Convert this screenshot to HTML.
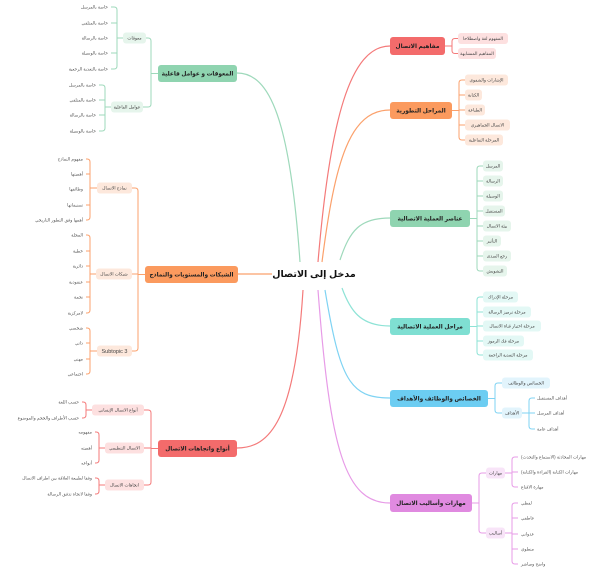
<!DOCTYPE html>
<html><head><meta charset="utf-8"><style>
html,body{margin:0;padding:0;background:#fff;}
svg{display:block;font-family:"Liberation Sans","DejaVu Sans",sans-serif;}
.m{font-size:5.8px;font-weight:bold;fill:#222;}
.c{font-size:4.4px;fill:#444;}
.l{font-size:4.4px;fill:#555;}
</style></head><body>
<svg width="604" height="576" viewBox="0 0 604 576" xmlns="http://www.w3.org/2000/svg">
<g fill="none" stroke-width="1.2">
<path d="M318 262 C330 120 350 46 390 46" stroke="#f47a7a"/>
<path d="M322 262 C335 160 350 110 390 110" stroke="#fba16c"/>
<path d="M340 260 C350 230 360 218 390 218" stroke="#9ed9bb"/>
<path d="M342 288 C350 310 360 326 390 326" stroke="#8ee3d6"/>
<path d="M325 290 C340 380 350 398 390 398" stroke="#7fd3f3"/>
<path d="M318 290 C330 450 345 503 390 503" stroke="#e79be7"/>
<path d="M300 262 C290 120 270 73 237 73" stroke="#9ed9bb"/>
<path d="M272 274 H238" stroke="#fba16c"/>
<path d="M303 290 C295 420 270 448 237 448" stroke="#f47a7a"/>
</g>
<g fill="none" stroke-width="1">
<g stroke="#f47a7a"><path d="M445 46 H452 M458 38.5 H455 Q452 38.5 452 41.5 V50.5 Q452 53.5 455 53.5 H458"/></g>
<g stroke="#fba16c"><path d="M452 110.5 H459 M465 80 H462 Q459 80 459 83 V137 Q459 140 462 140 H465 M459 95 H465 M459 110 H465 M459 125 H465"/></g>
<g stroke="#9ed9bb"><path d="M470 218.5 H477 M483 166 H480 Q477 166 477 169 V268 Q477 271 480 271 H483 M477 181 H483 M477 196 H483 M477 211 H483 M477 226 H483 M477 241 H483 M477 256 H483"/></g>
<g stroke="#8ee3d6"><path d="M470 326.5 H477 M483 297 H480 Q477 297 477 300 V352 Q477 355 480 355 H483 M477 312 H483 M477 326 H483 M477 341 H483"/></g>
<g stroke="#7fd3f3"><path d="M488 398.5 H495 M502 383 H498 Q495 383 495 386 V410 Q495 413 498 413 H502 M522 413 H529 M535 398 H532 Q529 398 529 401 V426 Q529 429 532 429 H535 M529 413 H535"/></g>
<g stroke="#e79be7"><path d="M472 503 H479 M486 473 H482 Q479 473 479 476 V530 Q479 533 482 533 H486 M505 473 H512 M518 457 H515 Q512 457 512 460 V484 Q512 487 515 487 H518 M512 472 H518 M505 533 H512 M518 503 H515 Q512 503 512 506 V561 Q512 564 515 564 H518 M512 518 H518 M512 534 H518 M512 549 H518"/></g>
<g stroke="#9ed9bb"><path d="M158 73.5 H151 M146 38 H148 Q151 38 151 41 V104 Q151 107 148 107 H143 M123 38 H117 M111 7 H114 Q117 7 117 10 V66 Q117 69 114 69 H111 M117 23 H111 M117 53 H111 M111 107 H105 M99 85 H102 Q105 85 105 88 V128 Q105 131 102 131 H99 M105 100 H99 M105 115 H99"/></g>
<g stroke="#fba16c"><path d="M145 274.5 H138 M132 188 H135 Q138 188 138 191 V348 Q138 351 135 351 H132 M138 274 H132 M97 188 H90 M86 159 H87 Q90 159 90 162 V217 Q90 220 87 220 H86 M90 174 H86 M90 205 H86 M96 274 H90 M86 235 H87 Q90 235 90 238 V310 Q90 313 87 313 H86 M90 251 H86 M90 266 H86 M90 282 H86 M90 297 H86 M97 351 H90 M86 328 H87 Q90 328 90 331 V371 Q90 374 87 374 H86 M90 343 H86 M90 359 H86"/></g>
<g stroke="#f47a7a"><path d="M158 448.5 H151 M144 410 H148 Q151 410 151 413 V482 Q151 485 148 485 H144 M151 448 H144 M92 410 H86 M82 402 H83 Q86 402 86 405 V415 Q86 418 83 418 H82 M105 448 H99 M95 432 H96 Q99 432 99 435 V460 Q99 463 96 463 H95 M105 485 H99 M95 478 H96 Q99 478 99 481 V491 Q99 494 96 494 H95"/></g>
</g>
<text x="314" y="277" text-anchor="middle" font-size="9.5" font-weight="bold" fill="#111">مدخل إلى الاتصال</text>
<rect x="390" y="37" width="55" height="18" rx="3" fill="#f36b6b"/><text class="m" x="417.5" y="48" text-anchor="middle">مفاهيم الاتصال</text>
<rect x="390" y="102" width="62" height="17" rx="3" fill="#fb9a5e"/><text class="m" x="421" y="112.5" text-anchor="middle">المراحل التطورية</text>
<rect x="390" y="210" width="80" height="17" rx="3" fill="#8fd4b0"/><text class="m" x="430" y="220.5" text-anchor="middle">عناصر العملية الاتصالية</text>
<rect x="390" y="318" width="80" height="17" rx="3" fill="#7fdfd2"/><text class="m" x="430" y="328.5" text-anchor="middle">مراحل العملية الاتصالية</text>
<rect x="390" y="390" width="98" height="17" rx="3" fill="#6ccdf2"/><text class="m" x="439" y="400.5" text-anchor="middle">الخصائص والوظائف والأهداف</text>
<rect x="390" y="494" width="82" height="18" rx="3" fill="#e08ae0"/><text class="m" x="431" y="505" text-anchor="middle">مهارات وأساليب الاتصال</text>
<rect x="158" y="65" width="79" height="17" rx="3" fill="#8fd4b0"/><text class="m" x="197.5" y="75.5" text-anchor="middle">المعوقات و عوامل فاعلية</text>
<rect x="145" y="266" width="93" height="17" rx="3" fill="#fb9a5e"/><text class="m" x="191.5" y="276.5" text-anchor="middle">الشبكات والمستويات والنماذج</text>
<rect x="158" y="440" width="79" height="17" rx="3" fill="#f36b6b"/><text class="m" x="197.5" y="450.5" text-anchor="middle">أنواع واتجاهات الاتصال</text>
<g class="c">
<rect x="458" y="33" width="50" height="11" rx="3" fill="#fde0e0"/><text x="483" y="40" text-anchor="middle">المفهوم لغة واصطلاحا</text>
<rect x="458" y="48" width="38" height="11" rx="3" fill="#fde0e0"/><text x="477" y="55" text-anchor="middle">المفاهيم المتشابهة</text>
<rect x="465" y="74.5" width="43" height="11" rx="3" fill="#fde8dc"/><text x="486.5" y="81.5" text-anchor="middle">الإشارات والشفوي</text>
<rect x="465" y="89.5" width="17" height="11" rx="3" fill="#fde8dc"/><text x="473.5" y="96.5" text-anchor="middle">الكتابة</text>
<rect x="465" y="104.5" width="20" height="11" rx="3" fill="#fde8dc"/><text x="475" y="111.5" text-anchor="middle">الطباعة</text>
<rect x="465" y="119.5" width="45" height="11" rx="3" fill="#fde8dc"/><text x="487.5" y="126.5" text-anchor="middle">الاتصال الجماهيري</text>
<rect x="465" y="134.5" width="38" height="11" rx="3" fill="#fde8dc"/><text x="484" y="141.5" text-anchor="middle">المرحلة التفاعلية</text>
</g>
<g class="c">
<rect x="483" y="160.5" width="20" height="11" rx="3" fill="#e6f5ec"/><text x="493" y="167.5" text-anchor="middle">المرسل</text>
<rect x="483" y="175.5" width="20" height="11" rx="3" fill="#e6f5ec"/><text x="493" y="182.5" text-anchor="middle">الرسالة</text>
<rect x="483" y="190.5" width="20" height="11" rx="3" fill="#e6f5ec"/><text x="493" y="197.5" text-anchor="middle">الوسيلة</text>
<rect x="483" y="205.5" width="22" height="11" rx="3" fill="#e6f5ec"/><text x="494" y="212.5" text-anchor="middle">المستقبل</text>
<rect x="483" y="220.5" width="28" height="11" rx="3" fill="#e6f5ec"/><text x="497" y="227.5" text-anchor="middle">بيئة الاتصال</text>
<rect x="483" y="235.5" width="18" height="11" rx="3" fill="#e6f5ec"/><text x="492" y="242.5" text-anchor="middle">التأثير</text>
<rect x="483" y="250.5" width="28" height="11" rx="3" fill="#e6f5ec"/><text x="497" y="257.5" text-anchor="middle">رجع الصدى</text>
<rect x="483" y="265.5" width="24" height="11" rx="3" fill="#e6f5ec"/><text x="495" y="272.5" text-anchor="middle">التشويش</text>
</g>
<g class="c">
<rect x="483" y="291.5" width="35" height="11" rx="3" fill="#e3f8f5"/><text x="500.5" y="298.5" text-anchor="middle">مرحلة الإدراك</text>
<rect x="483" y="306.5" width="48" height="11" rx="3" fill="#e3f8f5"/><text x="507" y="313.5" text-anchor="middle">مرحلة ترميز الرسالة</text>
<rect x="483" y="320.5" width="58" height="11" rx="3" fill="#e3f8f5"/><text x="512" y="327.5" text-anchor="middle">مرحلة اختيار قناة الاتصال</text>
<rect x="483" y="335.5" width="41" height="11" rx="3" fill="#e3f8f5"/><text x="503.5" y="342.5" text-anchor="middle">مرحلة فك الرموز</text>
<rect x="483" y="349.5" width="50" height="11" rx="3" fill="#e3f8f5"/><text x="508" y="356.5" text-anchor="middle">مرحلة التغذية الراجعة</text>
</g>
<g class="c">
<rect x="502" y="377.5" width="48" height="11" rx="3" fill="#e2f4fc"/><text x="526" y="384.5" text-anchor="middle">الخصائص والوظائف</text>
<rect x="502" y="407.5" width="20" height="11" rx="3" fill="#e2f4fc"/><text x="512" y="414.5" text-anchor="middle">الأهداف</text>
<rect x="486" y="467.5" width="19" height="11" rx="3" fill="#f8e4f8"/><text x="495.5" y="474.5" text-anchor="middle">مهارات</text>
<rect x="486" y="527.5" width="19" height="11" rx="3" fill="#f8e4f8"/><text x="495.5" y="534.5" text-anchor="middle">أساليب</text>
</g>
<g class="l">
<text x="537" y="399.5">أهداف المستقبل</text>
<text x="537" y="414.5">أهداف المرسل</text>
<text x="537" y="430.5">أهداف عامة</text>
<text x="521" y="458.5">مهارات المحادثة (الاستماع والتحدث)</text>
<text x="521" y="473.5">مهارات الكتابة (القراءة والكتابة)</text>
<text x="521" y="488.5">مهارة الاقناع</text>
<text x="521" y="504.5">لفظي</text>
<text x="521" y="519.5">عاطفي</text>
<text x="521" y="535.5">عدواني</text>
<text x="521" y="550.5">منطوي</text>
<text x="521" y="565.5">واضح ومباشر</text>
</g>
<g class="c">
<rect x="123" y="32.5" width="23" height="11" rx="3" fill="#e6f5ec"/><text x="134.5" y="39.5" text-anchor="middle">معوقات</text>
<rect x="111" y="101.5" width="32" height="11" rx="3" fill="#e6f5ec"/><text x="127" y="108.5" text-anchor="middle">عوامل الفاعلية</text>
<rect x="97" y="182.5" width="35" height="11" rx="3" fill="#fde8dc"/><text x="114.5" y="189.5" text-anchor="middle">نماذج الاتصال</text>
<rect x="96" y="268.5" width="36" height="11" rx="3" fill="#fde8dc"/><text x="114" y="275.5" text-anchor="middle">شبكات الاتصال</text>
<rect x="97" y="345.5" width="35" height="11" rx="3" fill="#fde8dc"/><text x="114.5" y="352.8" text-anchor="middle" font-size="5.5">Subtopic 3</text>
<rect x="92" y="404.5" width="52" height="11" rx="3" fill="#fde0e0"/><text x="118" y="411.5" text-anchor="middle">أنواع الاتصال الإنساني</text>
<rect x="105" y="442.5" width="39" height="11" rx="3" fill="#fde0e0"/><text x="124.5" y="449.5" text-anchor="middle">الاتصال التنظيمي</text>
<rect x="105" y="479.5" width="39" height="11" rx="3" fill="#fde0e0"/><text x="124.5" y="486.5" text-anchor="middle">اتجاهات الاتصال</text>
</g>
<g class="l" text-anchor="end">
<text x="108" y="8.5">خاصة بالمرسل</text>
<text x="108" y="24.5">خاصة بالمتلقي</text>
<text x="108" y="39.5">خاصة بالرسالة</text>
<text x="108" y="54.5">خاصة بالوسيلة</text>
<text x="108" y="70.5">خاصة بالتغذية الرجعية</text>
<text x="96" y="86.5">خاصة بالمرسل</text>
<text x="96" y="101.5">خاصة بالمتلقي</text>
<text x="96" y="116.5">خاصة بالرسالة</text>
<text x="96" y="132.5">خاصة بالوسيلة</text>
<text x="83" y="160.5">مفهوم النماذج</text>
<text x="83" y="175.5">أهميتها</text>
<text x="83" y="190.5">وظائفها</text>
<text x="83" y="206.5">تصنيفاتها</text>
<text x="83" y="221.5">أهمها وفق التطور التاريخي</text>
<text x="83" y="236.5">المجلة</text>
<text x="83" y="252.5">خطية</text>
<text x="83" y="267.5">دائرية</text>
<text x="83" y="283.5">عنقودية</text>
<text x="83" y="298.5">نجمة</text>
<text x="83" y="314.5">لامركزية</text>
<text x="83" y="329.5">شخصي</text>
<text x="83" y="344.5">ذاتي</text>
<text x="83" y="360.5">مهني</text>
<text x="83" y="375.5">اجتماعي</text>
<text x="79" y="403.5">حسب اللغة</text>
<text x="79" y="419.5">حسب الأطراف والحجم والموضوع</text>
<text x="92" y="433.5">مفهومه</text>
<text x="92" y="449.5">أهميته</text>
<text x="92" y="464.5">أنواعه</text>
<text x="92" y="479.5">وفقا لطبيعة العلاقة بين اطراف الاتصال</text>
<text x="92" y="495.5">وفقا لاتجاه تدفق الرسالة</text>
</g>
</svg>
</body></html>
